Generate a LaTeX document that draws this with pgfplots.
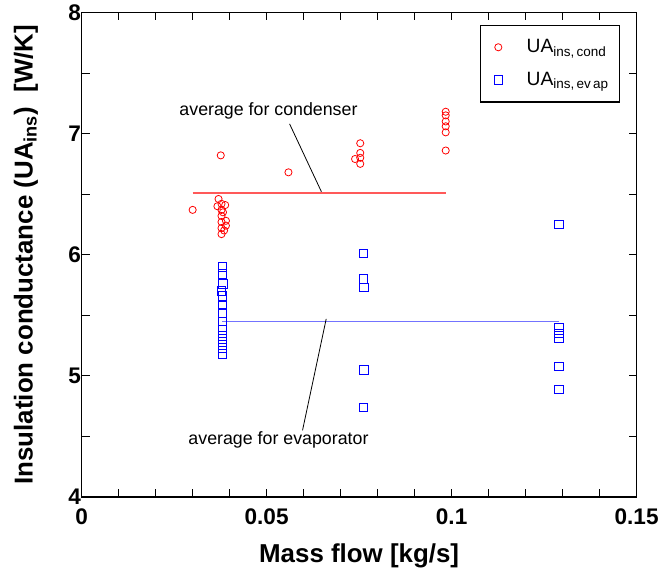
\documentclass[border=0pt]{standalone}
\usepackage{pgfplots}
\pgfplotsset{compat=1.18}
\usepackage{fontspec}
\setmainfont{Liberation Sans}
\definecolor{cred}{RGB}{255,0,0}
\definecolor{cblue}{RGB}{0,0,255}
\begin{document}
\begin{tikzpicture}
\begin{axis}[
  scale only axis,
  width=418pt, height=365pt,
  xmin=0, xmax=0.15, ymin=4, ymax=8,
  xtick={0,0.05,0.1,0.15}, xticklabels={0,0.05,0.1,0.15},
  scaled x ticks=false,
  minor xtick={0.01,0.02,0.03,0.04,0.06,0.07,0.08,0.09,0.11,0.12,0.13,0.14},
  ytick={4,5,6,7,8}, yticklabels={4,5,6,7,8},
  minor ytick={4.5,5.5,6.5,7.5},
  tick align=inside,
  major tick length=6pt, minor tick length=6pt,
  every tick/.style={black, line width=0.6pt},
  axis line style={line width=0.9pt},
  /pgf/number format/assume math mode=true,
  ticklabel style={font=\bfseries\fontsize{17}{17}\selectfont},
  xticklabel style={yshift=-5pt},
  yticklabel style={xshift=3pt},
  xlabel={\rule[-11pt]{0pt}{11pt}Mass flow [kg/s]},
  ylabel={\rule{0pt}{24.5pt}Insulation conductance (UA\textsubscript{ins})\ \ [W/K]},
  label style={font=\bfseries\fontsize{19.5}{19.5}\selectfont, inner sep=0pt},
  xlabel style={at={(axis description cs:0.5,0)}, anchor=base, yshift=-49.5pt},
  ylabel style={at={(axis description cs:0,0.5)}, anchor=base, yshift=37pt},
  legend style={at={(0.97,0.975)}, anchor=north east, draw=black, line width=0.8pt,
    font=\fontsize{14.5}{16}\selectfont, row sep=9pt, inner xsep=6pt, inner ysep=9pt,
    legend cell align=left},
  legend image code/.code={\path (0pt,0pt) (26pt,0pt); \draw[#1] plot coordinates {(7pt,0pt)};},
]
% condenser
\addplot[only marks, mark=o, mark size=2.7pt, draw=cred, mark options={line width=0.6pt}] coordinates {
(0.0300,6.37)
(0.0376,6.82)
(0.0370,6.46)(0.0367,6.40)(0.0388,6.41)(0.0378,6.42)(0.0378,6.37)(0.0378,6.32)
(0.0378,6.27)(0.0390,6.28)(0.0390,6.24)(0.0378,6.22)(0.0378,6.17)(0.0382,6.35)(0.0385,6.20)
(0.0559,6.68)
(0.0739,6.79)(0.0753,6.92)(0.0753,6.84)(0.0753,6.80)(0.0753,6.75)
(0.0984,7.18)(0.0984,7.15)(0.0984,7.10)(0.0984,7.06)(0.0984,7.01)(0.0984,6.86)
};
\addlegendentry{UA\textsubscript{ins,\,cond}}
% evaporator
\addplot[only marks, mark=square, mark size=3.2pt, draw=cblue, mark options={line width=0.6pt}] coordinates {
(0.0381,5.90)(0.0381,5.84)(0.0382,5.76)(0.0378,5.70)(0.0380,5.66)(0.0381,5.58)
(0.0381,5.52)(0.0381,5.45)(0.0381,5.38)(0.0381,5.33)(0.0381,5.28)(0.0381,5.23)(0.0381,5.18)
(0.0761,6.01)(0.0761,5.80)(0.0763,5.73)(0.0763,5.05)(0.0761,4.74)
(0.1290,6.25)(0.1290,5.40)(0.1290,5.35)(0.1290,5.31)(0.1290,5.08)(0.1290,4.89)
};
\addlegendentry{UA\textsubscript{ins,\,ev\,ap}}
% averages
\addplot[forget plot, color=cred!65, line width=1pt] coordinates {(0.0300,6.51)(0.0984,6.51)};
\addplot[forget plot, color=cblue!55, line width=1pt] coordinates {(0.0380,5.45)(0.1290,5.45)};
% leader lines
\addplot[forget plot, black, line width=0.6pt] coordinates {(0.0562,7.08)(0.0648,6.52)};
\addplot[forget plot, black, line width=0.6pt] coordinates {(0.0661,5.47)(0.0597,4.55)};
\node[font=\fontsize{13.4}{15}\selectfont] at (axis cs:0.0505,7.19) {average for condenser};
\node[font=\fontsize{13.4}{15}\selectfont] at (axis cs:0.0532,4.47) {average for evaporator};
\end{axis}
\end{tikzpicture}
\end{document}
